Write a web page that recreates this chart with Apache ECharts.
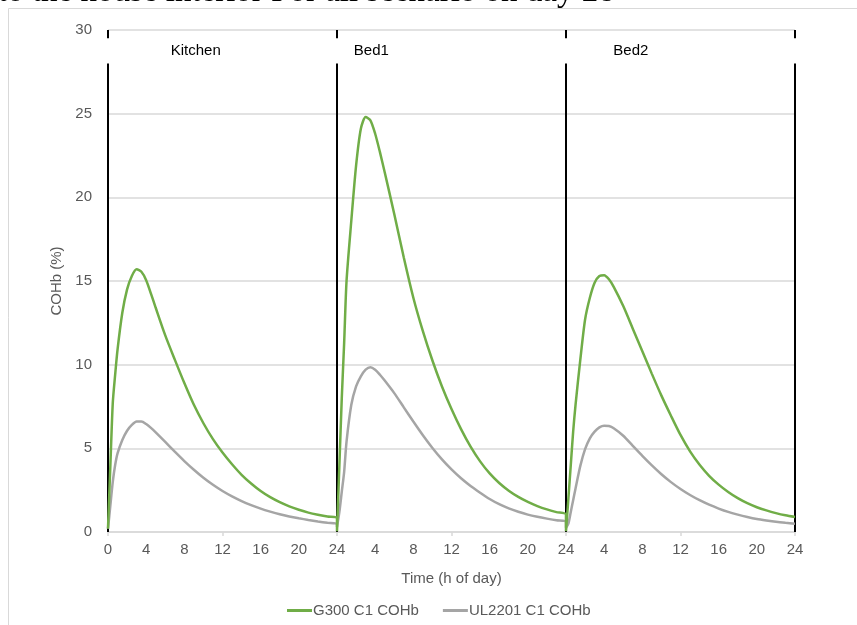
<!DOCTYPE html>
<html><head><meta charset="utf-8">
<script src="https://cdn.jsdelivr.net/npm/echarts/dist/echarts.min.js"></script>
<style>html,body{margin:0;padding:0;background:#fff}#c{width:857px;height:625px}</style>
</head><body><div id="c"></div>
<script>
// local hour of day grid shared by all rooms
const hours = [0,0.25,0.5,0.75,1,1.5,2,2.5,3,3.5,4,4.5,5,6,7,8,9,10,11,12,13,14,15,16,17,18,19,20,21,22,23,24];
const rooms = ['Kitchen','Bed1','Bed2'];
const seriesNames = ['G300 C1 COHb','UL2201 C1 COHb'];
// G300 C1 COHb (%)
const g300Kitchen = [0.2,4.0,7.7,9.4,10.9,13.1,14.5,15.3,15.7,15.55,15.05,14.25,13.4,11.75,10.3,8.9,7.6,6.5,5.55,4.75,4.05,3.42,2.9,2.45,2.08,1.78,1.53,1.33,1.16,1.03,0.92,0.84];
const g300Bed1    = [0.05,4.0,8.0,11.3,15.0,18.6,21.9,24.1,24.8,24.6,23.8,22.7,21.5,19.0,16.4,14.0,12.0,10.25,8.7,7.35,6.15,5.1,4.22,3.5,2.93,2.47,2.1,1.8,1.55,1.35,1.19,1.05];
const g300Bed2    = [0.05,2.0,4.0,6.0,7.6,10.3,12.7,14.0,14.9,15.3,15.35,15.1,14.65,13.5,12.15,10.8,9.45,8.15,6.95,5.8,4.82,4.02,3.36,2.83,2.39,2.02,1.72,1.48,1.29,1.13,1.0,0.9];
// UL2201 C1 COHb (%)
const ulKitchen = [0.2,1.6,3.0,4.0,4.7,5.5,6.05,6.4,6.6,6.6,6.45,6.22,5.95,5.38,4.8,4.24,3.72,3.24,2.82,2.45,2.13,1.85,1.61,1.4,1.22,1.06,0.93,0.82,0.72,0.63,0.55,0.48];
const ulBed1    = [0.3,1.2,2.4,3.6,5.4,7.6,8.7,9.3,9.7,9.85,9.7,9.4,9.05,8.3,7.45,6.6,5.78,5.02,4.34,3.74,3.21,2.75,2.35,1.97,1.66,1.41,1.21,1.04,0.91,0.8,0.7,0.62];
const ulBed2    = [0.25,0.5,1.2,1.9,2.6,3.95,4.95,5.6,6.0,6.25,6.35,6.33,6.2,5.75,5.15,4.55,3.98,3.45,2.98,2.57,2.21,1.9,1.63,1.4,1.2,1.04,0.9,0.78,0.69,0.61,0.55,0.5];
// room dividers and room labels
const dividerHours = [0,24,48,72];
const labelHours = [9.2,27.6,54.8];
const labelLevel = 28.75;
const gapLow = 28.0, gapHigh = 29.5, yMax = 30;
const xTickLabels = ['0','4','8','12','16','20','24','4','8','12','16','20','24','4','8','12','16','20','24'];

function build(list){
  const out = [];
  list.forEach((vals, r) => {
    hours.forEach((h, i) => out.push([r*24 + h, vals[i]]));
  });
  return out;
}
const dividerData = [];
dividerHours.forEach(h => {
  dividerData.push([h,0],[h,gapLow],[h,'-'],[h,gapHigh],[h,yMax],[h,'-']);
});

const font = 'Liberation Sans';
const chart = echarts.init(document.getElementById('c'));
chart.setOption({
  animation:false,
  backgroundColor:'#fff',
  textStyle:{fontFamily:font},
  graphic:[
    {type:'rect', shape:{x:8.5,y:8.5,width:900,height:700}, style:{fill:'none',stroke:'#d9d9d9',lineWidth:1}, z:-10},
    {type:'text', left:-2, top:-24, style:{text:'to the house interior For all scenario on day 28', font:'33px "Liberation Serif"', fill:'#000'}}
  ],
  grid:{left:108,right:62,top:30,bottom:93},
  legend:{
    data:seriesNames, left:282, top:598, itemWidth:25, itemHeight:3, itemGap:24, icon:'rect',
    textStyle:{color:'#595959',fontSize:15,fontFamily:font,padding:[0,0,0,-4]}
  },
  xAxis:[{
    type:'value', min:0, max:72, interval:4,
    axisLine:{lineStyle:{color:'#d9d9d9',width:1.5}},
    axisTick:{show:false}, splitLine:{show:false},
    axisLabel:{color:'#595959',fontSize:15,margin:10,formatter:(v)=>xTickLabels[Math.round(v/4)]},
    name:'Time (h of day)', nameLocation:'middle', nameGap:39,
    nameTextStyle:{color:'#595959',fontSize:15}
  },{
    type:'value', min:0, max:72, interval:12, position:'bottom',
    axisLine:{show:false}, axisLabel:{show:false}, splitLine:{show:false},
    axisTick:{show:true,length:4,lineStyle:{color:'#d9d9d9',width:1.5}}
  }],
  yAxis:{
    type:'value', min:0, max:30, interval:5,
    axisLine:{show:false}, axisTick:{show:false},
    splitLine:{lineStyle:{color:'#d9d9d9',width:1.5}},
    axisLabel:{color:'#595959',fontSize:15,margin:16},
    name:'COHb (%)', nameLocation:'middle', nameGap:36, nameRotate:90,
    nameTextStyle:{color:'#595959',fontSize:15}
  },
  series:[
    {type:'line', name:'dividers', data:dividerData, symbol:'none', silent:true,
     lineStyle:{color:'#000',width:2}, z:1,
     markPoint:{symbol:'rect',symbolSize:0,
       label:{show:true,color:'#000',fontSize:15,fontFamily:font,formatter:(p)=>p.name},
       data:rooms.map((r,i)=>({name:r,coord:[labelHours[i],labelLevel]}))}},
    {type:'line', name:seriesNames[0], data:build([g300Kitchen,g300Bed1,g300Bed2]), symbol:'none',
     smooth:0.25, lineStyle:{color:'#70ad47',width:2.5}, itemStyle:{color:'#70ad47'}, z:3},
    {type:'line', name:seriesNames[1], data:build([ulKitchen,ulBed1,ulBed2]), symbol:'none',
     smooth:0.25, lineStyle:{color:'#a5a5a5',width:2.5}, itemStyle:{color:'#a5a5a5'}, z:2}
  ]
});
</script></body></html>
